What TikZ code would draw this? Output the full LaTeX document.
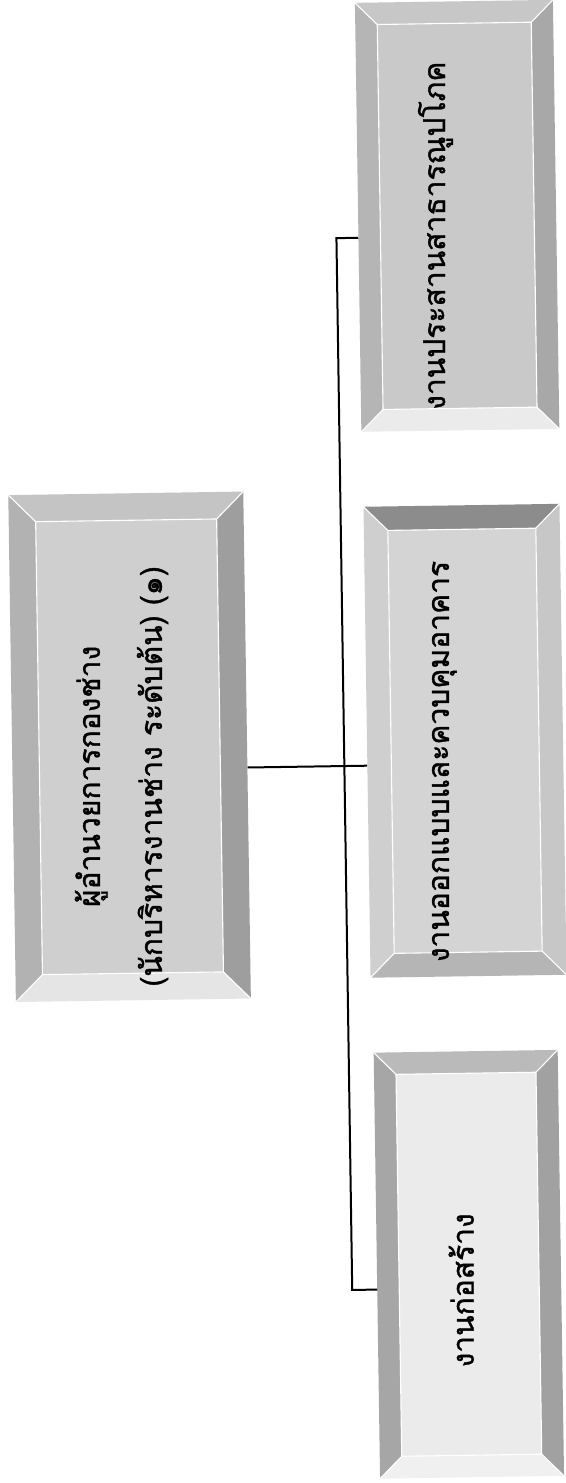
\documentclass[tikz,border=0pt]{standalone}
\usepackage{fontspec}
\newfontfamily\thaifont[Script=Thai,FakeBold=1.2]{Loma}
\usetikzlibrary{calc}
\tikzset{
  bevline/.style={draw=white, line width=1.1pt},
  link/.style={draw=black, line width=2pt},
  boxtext/.style={rotate=90, font=\thaifont\fontsize{30}{62}\selectfont, inner sep=0pt, align=center, text=black},
  boxfit/.style={inner sep=0pt, draw=none, rectangle}
}
% #1 name, #2 x1, #3 y1, #4 x2, #5 y2, #6 bevel width
\newcommand{\bevbox}[6]{%
  \fill[cT] (#2,#3) -- (#4,#3) -- ({#4-#6},{#3+#6}) -- ({#2+#6},{#3+#6}) -- cycle;
  \fill[cR] (#4,#3) -- (#4,#5) -- ({#4-#6},{#5-#6}) -- ({#4-#6},{#3+#6}) -- cycle;
  \fill[cB] (#4,#5) -- (#2,#5) -- ({#2+#6},{#5-#6}) -- ({#4-#6},{#5-#6}) -- cycle;
  \fill[cL] (#2,#5) -- (#2,#3) -- ({#2+#6},{#3+#6}) -- ({#2+#6},{#5-#6}) -- cycle;
  \fill[cI] ({#2+#6},{#3+#6}) rectangle ({#4-#6},{#5-#6});
  \draw[bevline] ({#2+#6},{#3+#6}) rectangle ({#4-#6},{#5-#6});
  \draw[bevline] (#2,#3) -- ({#2+#6},{#3+#6});
  \draw[bevline] (#4,#3) -- ({#4-#6},{#3+#6});
  \draw[bevline] (#4,#5) -- ({#4-#6},{#5-#6});
  \draw[bevline] (#2,#5) -- ({#2+#6},{#5-#6});
  \node[boxfit, minimum width={(#4-#2)*1pt}, minimum height={(#5-#3)*1pt}] (#1) at ({(#2+#4)/2},{(#3+#5)/2}) {};
}
\begin{document}
\begin{tikzpicture}[x=1pt,y=-1pt]
\useasboundingbox (0,0) rectangle (565,1483);
\fill[white] (0,0) rectangle (565,1483);
\begin{scope}[rotate around={0.86:(282.5,741.5)}]
  % main box
  \colorlet{cT}{black!23}\colorlet{cL}{black!30}\colorlet{cR}{black!38}\colorlet{cB}{black!10}\colorlet{cI}{black!19}
  \bevbox{m}{12}{491}{247}{998}{27}
  % box 1
  \colorlet{cT}{black!22}\colorlet{cL}{black!29}\colorlet{cR}{black!34}\colorlet{cB}{black!8}\colorlet{cI}{black!21}
  \bevbox{b1}{366}{4}{564}{433}{22}
  % box 2
  \colorlet{cT}{black!45}\colorlet{cL}{black!19}\colorlet{cR}{black!22}\colorlet{cB}{black!29}\colorlet{cI}{black!17}
  \bevbox{b2}{367}{508}{563}{979}{24}
  % box 3
  \colorlet{cT}{black!27}\colorlet{cL}{black!35}\colorlet{cR}{black!37}\colorlet{cB}{black!6}\colorlet{cI}{black!8}
  \bevbox{b3}{369}{1054}{553}{1480}{22}

  \node[boxtext] (mt) at (121,774) {ผู้อำนวยการกองช่าง\\(นักบริหารงานช่าง ระดับต้น) (๑)};
  \node[boxtext] (b1t) at (443,238) {งานประสานสาธารณูปโภค};
  \node[boxtext] (b2t) at (444,764) {งานออกแบบและควบคุมอาคาร};
  \node[boxtext] (b3t) at (453,1293) {งานก่อสร้าง};

  \coordinate (t) at (344,239);
  \coordinate (j) at (344,767);
  \coordinate (u) at (344,1291);
  \draw[link] (b1.west |- t) -- (t) -- (u) -- (b3.west |- u);
  \draw[link] (m.east |- j) -- (b2.west |- j);
\end{scope}
\end{tikzpicture}
\end{document}
